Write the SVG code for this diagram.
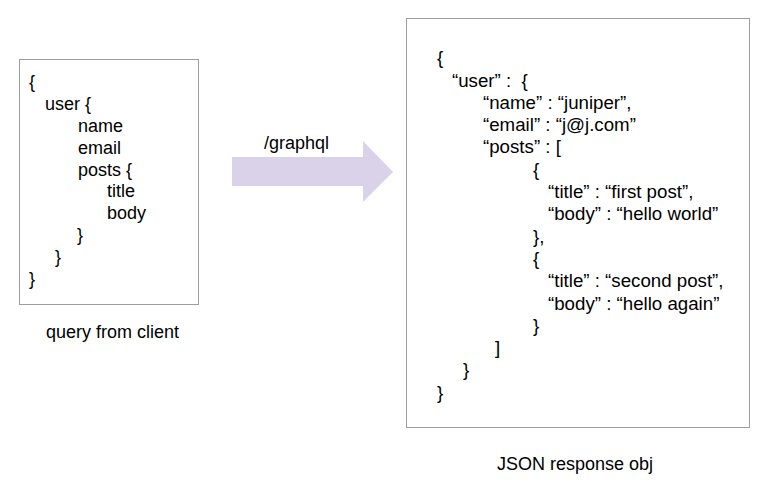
<svg xmlns="http://www.w3.org/2000/svg" width="759" height="486" viewBox="0 0 759 486">
<style>
text { font-family: "Liberation Sans", Arial, sans-serif; font-size: 18px; fill: #000; }
.json { font-size: 18.7px; }
.box { fill: #fff; stroke: #9e9e9e; stroke-width: 1; }
</style>
<rect width="759" height="486" fill="#fff"/>
<g id="query">
<rect class="box" x="19.5" y="59.5" width="179" height="245"/>
<text x="29" y="88">{</text>
<text x="45" y="110">user {</text>
<text x="78" y="132">name</text>
<text x="78" y="154">email</text>
<text x="78" y="176">posts {</text>
<text x="107" y="197">title</text>
<text x="107" y="219">body</text>
<text x="77" y="241">}</text>
<text x="55" y="263">}</text>
<text x="29" y="285">}</text>
</g>
<g id="query-label">
<text x="46" y="338">query from client</text>
</g>
<g id="connectors">
<polygon points="232,157 363,157 363,141 393,172 363,202 363,186 232,186" fill="#d9d2e9"/>
<text x="264" y="149">/graphql</text>
</g>
<g id="response">
<rect class="box" x="406.5" y="18.5" width="343" height="409"/>
<g class="json">
<text class="json" x="437" y="63.5">{</text>
<text class="json" x="452" y="86.5" xml:space="preserve">“user” :  {</text>
<text class="json" x="483" y="108.8">“name” : “juniper”,</text>
<text class="json" x="483" y="131.1">“email” : “j@j.com”</text>
<text class="json" x="483" y="153.4">“posts” : [</text>
<text class="json" x="533" y="175.7">{</text>
<text class="json" x="548" y="198">“title” : “first post”,</text>
<text class="json" x="548" y="220.3">“body” : “hello world”</text>
<text class="json" x="533" y="242.6">},</text>
<text class="json" x="533" y="264.9">{</text>
<text class="json" x="548" y="287.2">“title” : “second post”,</text>
<text class="json" x="548" y="309.5">“body” : “hello again”</text>
<text class="json" x="533" y="331.8">}</text>
<text class="json" x="495" y="354.1">]</text>
<text class="json" x="463" y="376.4">}</text>
<text class="json" x="437" y="398.7">}</text>
</g>
</g>
<g id="response-label">
<text x="497" y="470">JSON response obj</text>
</g>
</svg>
